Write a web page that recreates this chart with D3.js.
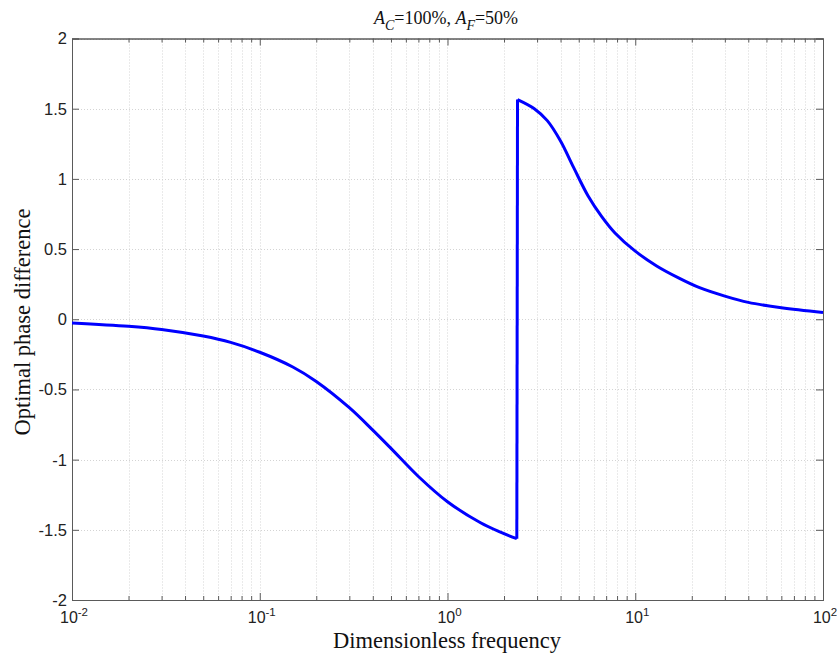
<!DOCTYPE html>
<html><head><meta charset="utf-8">
<script src="https://cdn.jsdelivr.net/npm/d3@7"></script>
<style>body{margin:0;background:#fff}</style>
</head><body><svg id="c" width="837" height="657"></svg>
<script>
// Data
const freqLow  = [0.01,0.02,0.03,0.05,0.07,0.1,0.15,0.2,0.3,0.4,0.5,0.7,1.0,1.5,1.9,2.34];
const phaseLow = [-0.026,-0.05,-0.073,-0.12,-0.165,-0.235,-0.34,-0.443,-0.63,-0.79,-0.92,-1.12,-1.30,-1.45,-1.515,-1.563];
const freqHigh  = [2.36,2.9,3.4,4.0,4.7,5.6,6.6,7.8,10,13,17,22,30,40,60,100];
const phaseHigh = [1.565,1.50,1.415,1.27,1.08,0.88,0.735,0.615,0.485,0.38,0.295,0.225,0.165,0.12,0.082,0.048];
const yTicks = [-2,-1.5,-1,-0.5,0,0.5,1,1.5,2];
const xMajor = [-2,-1,0,1,2];

const L=72,R=823,T=38.5,B=600;
const svg=d3.select("#c");
const x=d3.scaleLog().domain([0.01,100]).range([L,R]);
const y=d3.scaleLinear().domain([-2,2]).range([B,T]);

const minors=[];
for(let e=-2;e<2;e++) for(let k=2;k<=9;k++) minors.push(k*Math.pow(10,e));
const majors=xMajor.map(e=>Math.pow(10,e));

const grid=svg.append("g").attr("stroke","#d4d4d4").attr("stroke-width",1).attr("stroke-dasharray","1,2");
minors.concat(majors).forEach(v=>{ const px=Math.round(x(v))+0.5;
  grid.append("line").attr("x1",px).attr("x2",px).attr("y1",T).attr("y2",B);});
yTicks.forEach(v=>{ const py=Math.round(y(v))+0.5;
  grid.append("line").attr("x1",L).attr("x2",R).attr("y1",py).attr("y2",py);});

const axCol="#5a5a5a";
const gB=svg.append("g").attr("transform",`translate(0,${B})`).call(d3.axisBottom(x).tickValues(majors).tickSize(-7).tickFormat(""));
const gBm=svg.append("g").attr("transform",`translate(0,${B})`).call(d3.axisBottom(x).tickValues(minors).tickSize(-4).tickFormat(""));
const gT=svg.append("g").attr("transform",`translate(0,${T})`).call(d3.axisTop(x).tickValues(majors).tickSize(-7).tickFormat(""));
const gTm=svg.append("g").attr("transform",`translate(0,${T})`).call(d3.axisTop(x).tickValues(minors).tickSize(-4).tickFormat(""));
const gL=svg.append("g").attr("transform",`translate(${L},0)`).call(d3.axisLeft(y).tickValues(yTicks).tickSize(-7).tickFormat(""));
const gR=svg.append("g").attr("transform",`translate(${R},0)`).call(d3.axisRight(y).tickValues(yTicks).tickSize(-7).tickFormat(""));
[gB,gBm,gT,gTm,gL,gR].forEach(g=>{g.selectAll("path,line").attr("stroke",axCol);});

svg.append("g").selectAll("text").data(yTicks).join("text")
  .attr("x",67).attr("y",d=>y(d)).attr("dy","0.36em").attr("text-anchor","end")
  .attr("font-family","Liberation Sans, Arial").attr("font-size",16.5).attr("fill","#222")
  .text(d=>d);
const xl=svg.append("g").selectAll("text").data(xMajor).join("text")
  .attr("x",d=>x(Math.pow(10,d))+2).attr("y",623).attr("text-anchor","middle")
  .attr("font-family","Liberation Sans, Arial").attr("font-size",16).attr("fill","#222");
xl.append("tspan").text("10");
xl.append("tspan").attr("dy",-7).attr("font-size",11.5).text(d=>d);

const line=d3.line().x(d=>x(d[0])).y(d=>y(d[1])).curve(d3.curveCatmullRom.alpha(0.5));
const low=freqLow.map((f,i)=>[f,phaseLow[i]]);
const high=freqHigh.map((f,i)=>[f,phaseHigh[i]]);
const cg=svg.append("g").attr("fill","none").attr("stroke","#0000ff").attr("stroke-width",3).attr("stroke-linejoin","round");
cg.append("path").attr("d",line(low));
cg.append("path").attr("d",line(high));
cg.append("path").attr("d",d3.line().x(d=>x(d[0])).y(d=>y(d[1]))([low[low.length-1],high[0]]));

const t=svg.append("text").attr("x",446).attr("y",24).attr("text-anchor","middle")
  .attr("font-family","Liberation Serif, Times New Roman").attr("font-size",18).attr("fill","#111");
t.append("tspan").attr("font-style","italic").text("A");
t.append("tspan").attr("font-style","italic").attr("font-size",14).attr("dy",6).text("C");
t.append("tspan").attr("dy",-6).text("=100%, ");
t.append("tspan").attr("font-style","italic").text("A");
t.append("tspan").attr("font-style","italic").attr("font-size",14).attr("dy",6).text("F");
t.append("tspan").attr("dy",-6).text("=50%");

svg.append("text").attr("x",447).attr("y",648).attr("text-anchor","middle")
  .attr("font-family","Liberation Serif, Times New Roman").attr("font-size",22.5).attr("fill","#111")
  .text("Dimensionless frequency");
svg.append("text").attr("transform","translate(30,322) rotate(-90)").attr("text-anchor","middle")
  .attr("font-family","Liberation Serif, Times New Roman").attr("font-size",22.5).attr("fill","#111")
  .text("Optimal phase difference");
</script></body></html>
